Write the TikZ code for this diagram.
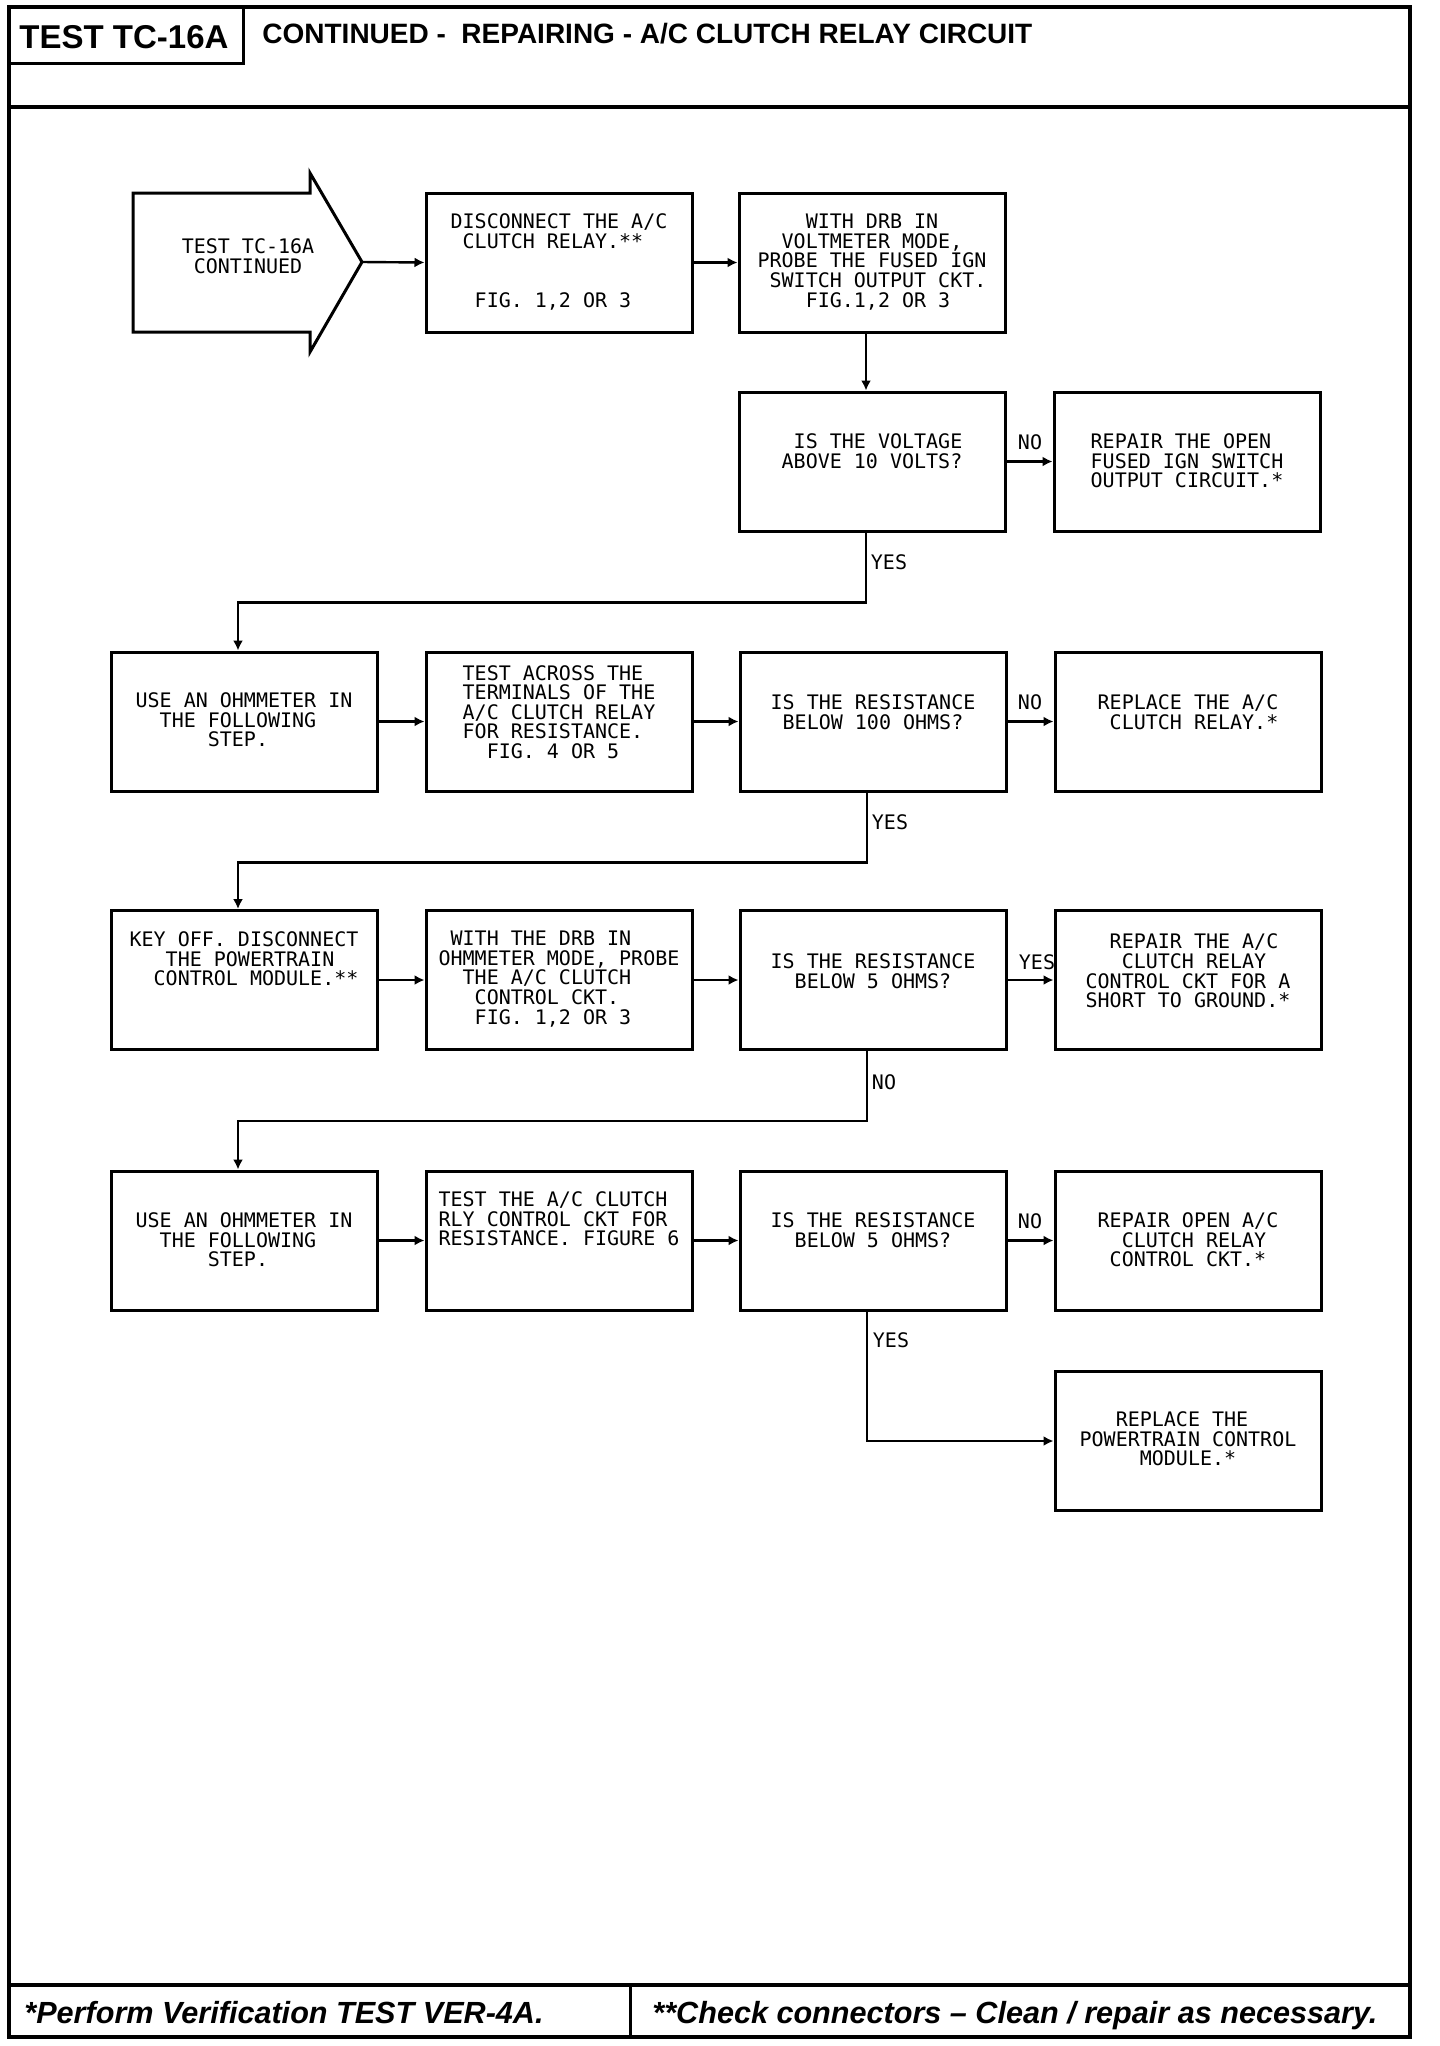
\documentclass[tikz,border=0pt]{standalone}
\usepackage{fontspec}
\setmainfont{Liberation Sans}
\newfontfamily\plotfont{DejaVu Sans Mono}
\usetikzlibrary{arrows.meta}
\begin{document}
\begin{tikzpicture}[x=0.5pt,y=-0.5pt,
  box/.style={draw, line width=1.5pt, rectangle, minimum width=133pt, minimum height=69.5pt, inner sep=0pt},
  txt/.style={font=\plotfont\fontsize{10}{9.8}\selectfont, align=left, inner sep=0pt, anchor=center},
  ctxt/.style={txt, align=center},
  lbl/.style={font=\plotfont\fontsize{10}{10}\selectfont, inner sep=0pt, anchor=center},
  conn/.style={line width=1.2pt},
  arr/.style={conn, -{Latex[length=5pt,width=5pt]}},
  frameline/.style={line width=2pt},
]
\useasboundingbox (0,0) rectangle (1440,2046);
\fill[white] (0,0) rectangle (1440,2046);

% frame, header, footer
\draw[frameline] (9,7) rectangle (1410,2037);
\draw[line width=1.5pt] (9,7) rectangle (243,63);
\draw[frameline] (9,107) -- (1410,107);
\draw[frameline] (9,1985) -- (1410,1985);
\draw[line width=1.5pt] (630,1985) -- (630,2037);

\node[font=\bfseries\fontsize{16.5}{16.5}\selectfont, inner sep=0pt, anchor=base] (hdrtest) at (124,48) {TEST TC-16A};
\node[font=\bfseries\fontsize{14}{14}\selectfont, inner sep=0pt, anchor=base west] (hdrtitle) at (262,43) {CONTINUED -\ \ REPAIRING - A/C CLUTCH RELAY CIRCUIT};
\node[font=\bfseries\itshape\fontsize{15.3}{15.3}\selectfont, inner sep=0pt, anchor=base west] (foot1) at (24,2023) {*Perform Verification TEST VER-4A.};
\node[font=\bfseries\itshape\fontsize{15.3}{15.3}\selectfont, inner sep=0pt, anchor=base west] (foot2) at (652,2023) {**Check connectors -- Clean / repair as necessary.};

% start arrow
\draw[line width=1.5pt, line join=miter] (133,193) -- (310,193) -- (310,173) -- (362,262) -- (310,352) -- (310,332) -- (133,332) -- cycle;
\coordinate (starttip) at (362,262);
\node[ctxt] (start) at (248,256) {TEST TC-16A\\CONTINUED};

% boxes
\node[box] (b11) at (559,262.5) {};
\node[box] (b12) at (872,262.5) {};
\node[box] (d1) at (872,461.5) {};
\node[box] (r1) at (1187,461.5) {};

\node[box] (b21) at (244,721.5) {};
\node[box] (b22) at (559,721.5) {};
\node[box] (d2) at (873,721.5) {};
\node[box] (r2) at (1188,721.5) {};

\node[box] (b31) at (244,980) {};
\node[box] (b32) at (559,980) {};
\node[box] (d3) at (873,980) {};
\node[box] (r3) at (1188,980) {};

\node[box] (b41) at (244,1240.5) {};
\node[box] (b42) at (559,1240.5) {};
\node[box] (d4) at (873,1240.5) {};
\node[box] (r4) at (1188,1240.5) {};

\node[box] (r5) at (1188,1441) {};

% texts
\node[txt] (t11) at (559,262) {DISCONNECT THE A/C\\\hphantom{X}CLUTCH RELAY.**\\\mbox{}\\\mbox{}\\\hphantom{XX}FIG. 1,2 OR 3};
\node[txt] (t12) at (872,262) {\hphantom{XXXX}WITH DRB IN\\\hphantom{XX}VOLTMETER MODE,\\PROBE THE FUSED IGN\\\hphantom{X}SWITCH OUTPUT CKT.\\\hphantom{XXXX}FIG.1,2 OR 3};
\node[txt] (t13) at (872,451) {\hphantom{X}IS THE VOLTAGE\\ABOVE 10 VOLTS?};
\node[txt] (t14) at (1187,461) {REPAIR THE OPEN\\FUSED IGN SWITCH\\OUTPUT CIRCUIT.*};

\node[txt] (t21) at (244,720) {USE AN OHMMETER IN\\\hphantom{XX}THE FOLLOWING\\\hphantom{XXXXXX}STEP.};
\node[txt] (t22) at (559,712) {TEST ACROSS THE\\TERMINALS OF THE\\A/C CLUTCH RELAY\\FOR RESISTANCE.\\\hphantom{XX}FIG. 4 OR 5};
\node[ctxt] (t23) at (873,712) {IS THE RESISTANCE\\BELOW 100 OHMS?};
\node[txt] (t24) at (1188,712) {REPLACE THE A/C\\\hphantom{X}CLUTCH RELAY.*};

\node[txt] (t31) at (244,959) {KEY OFF. DISCONNECT\\\hphantom{XXX}THE POWERTRAIN\\\hphantom{XX}CONTROL MODULE.**};
\node[txt] (t32) at (559,979) {\hphantom{X}WITH THE DRB IN\\OHMMETER MODE, PROBE\\\hphantom{XX}THE A/C CLUTCH\\\hphantom{XXX}CONTROL CKT.\\\hphantom{XXX}FIG. 1,2 OR 3};
\node[ctxt] (t33) at (873,971) {IS THE RESISTANCE\\BELOW 5 OHMS?};
\node[txt] (t34) at (1188,971) {\hphantom{XX}REPAIR THE A/C\\\hphantom{XXX}CLUTCH RELAY\\CONTROL CKT FOR A\\SHORT TO GROUND.*};

\node[txt] (t41) at (244,1240) {USE AN OHMMETER IN\\\hphantom{XX}THE FOLLOWING\\\hphantom{XXXXXX}STEP.};
\node[txt] (t42) at (559,1219) {TEST THE A/C CLUTCH\\RLY CONTROL CKT FOR\\RESISTANCE. FIGURE 6};
\node[ctxt] (t43) at (873,1230) {IS THE RESISTANCE\\BELOW 5 OHMS?};
\node[txt] (t44) at (1188,1240) {REPAIR OPEN A/C\\\hphantom{XX}CLUTCH RELAY\\\hphantom{X}CONTROL CKT.*};

\node[txt] (t51) at (1188,1439) {\hphantom{XXX}REPLACE THE\\POWERTRAIN CONTROL\\\hphantom{XXXXX}MODULE.*};

% labels
\node[lbl] (l1) at (1030,442) {NO};
\node[lbl] (l2) at (889,562) {YES};
\node[lbl] (l3) at (1030,702) {NO};
\node[lbl] (l4) at (890,822) {YES};
\node[lbl] (l5) at (1037,962) {YES};
\node[lbl] (l6) at (884,1082) {NO};
\node[lbl] (l7) at (1030,1221) {NO};
\node[lbl] (l8) at (891,1340) {YES};

% connectors
\draw[arr] (starttip) -- (b11.west);
\draw[arr] (b11.east) -- (b12.west);
\draw[arr] ([xshift=-3pt]b12.south) -- ([xshift=-3pt]d1.north);
\draw[arr] (d1.east) -- (r1.west);
\draw[arr] ([xshift=-3pt]d1.south) -- ++(0,70) -| ([xshift=-3pt]b21.north);

\draw[arr] (b21.east) -- (b22.west);
\draw[arr] (b22.east) -- (d2.west);
\draw[arr] (d2.east) -- (r2.west);
\draw[arr] ([xshift=-3pt]d2.south) -- ++(0,70) -| ([xshift=-3pt]b31.north);

\draw[arr] (b31.east) -- (b32.west);
\draw[arr] (b32.east) -- (d3.west);
\draw[arr] (d3.east) -- (r3.west);
\draw[arr] ([xshift=-3pt]d3.south) -- ++(0,70) -| ([xshift=-3pt]b41.north);

\draw[arr] (b41.east) -- (b42.west);
\draw[arr] (b42.east) -- (d4.west);
\draw[arr] (d4.east) -- (r4.west);
\draw[arr] ([xshift=-3pt]d4.south) |- (r5.west);
\end{tikzpicture}
\end{document}
